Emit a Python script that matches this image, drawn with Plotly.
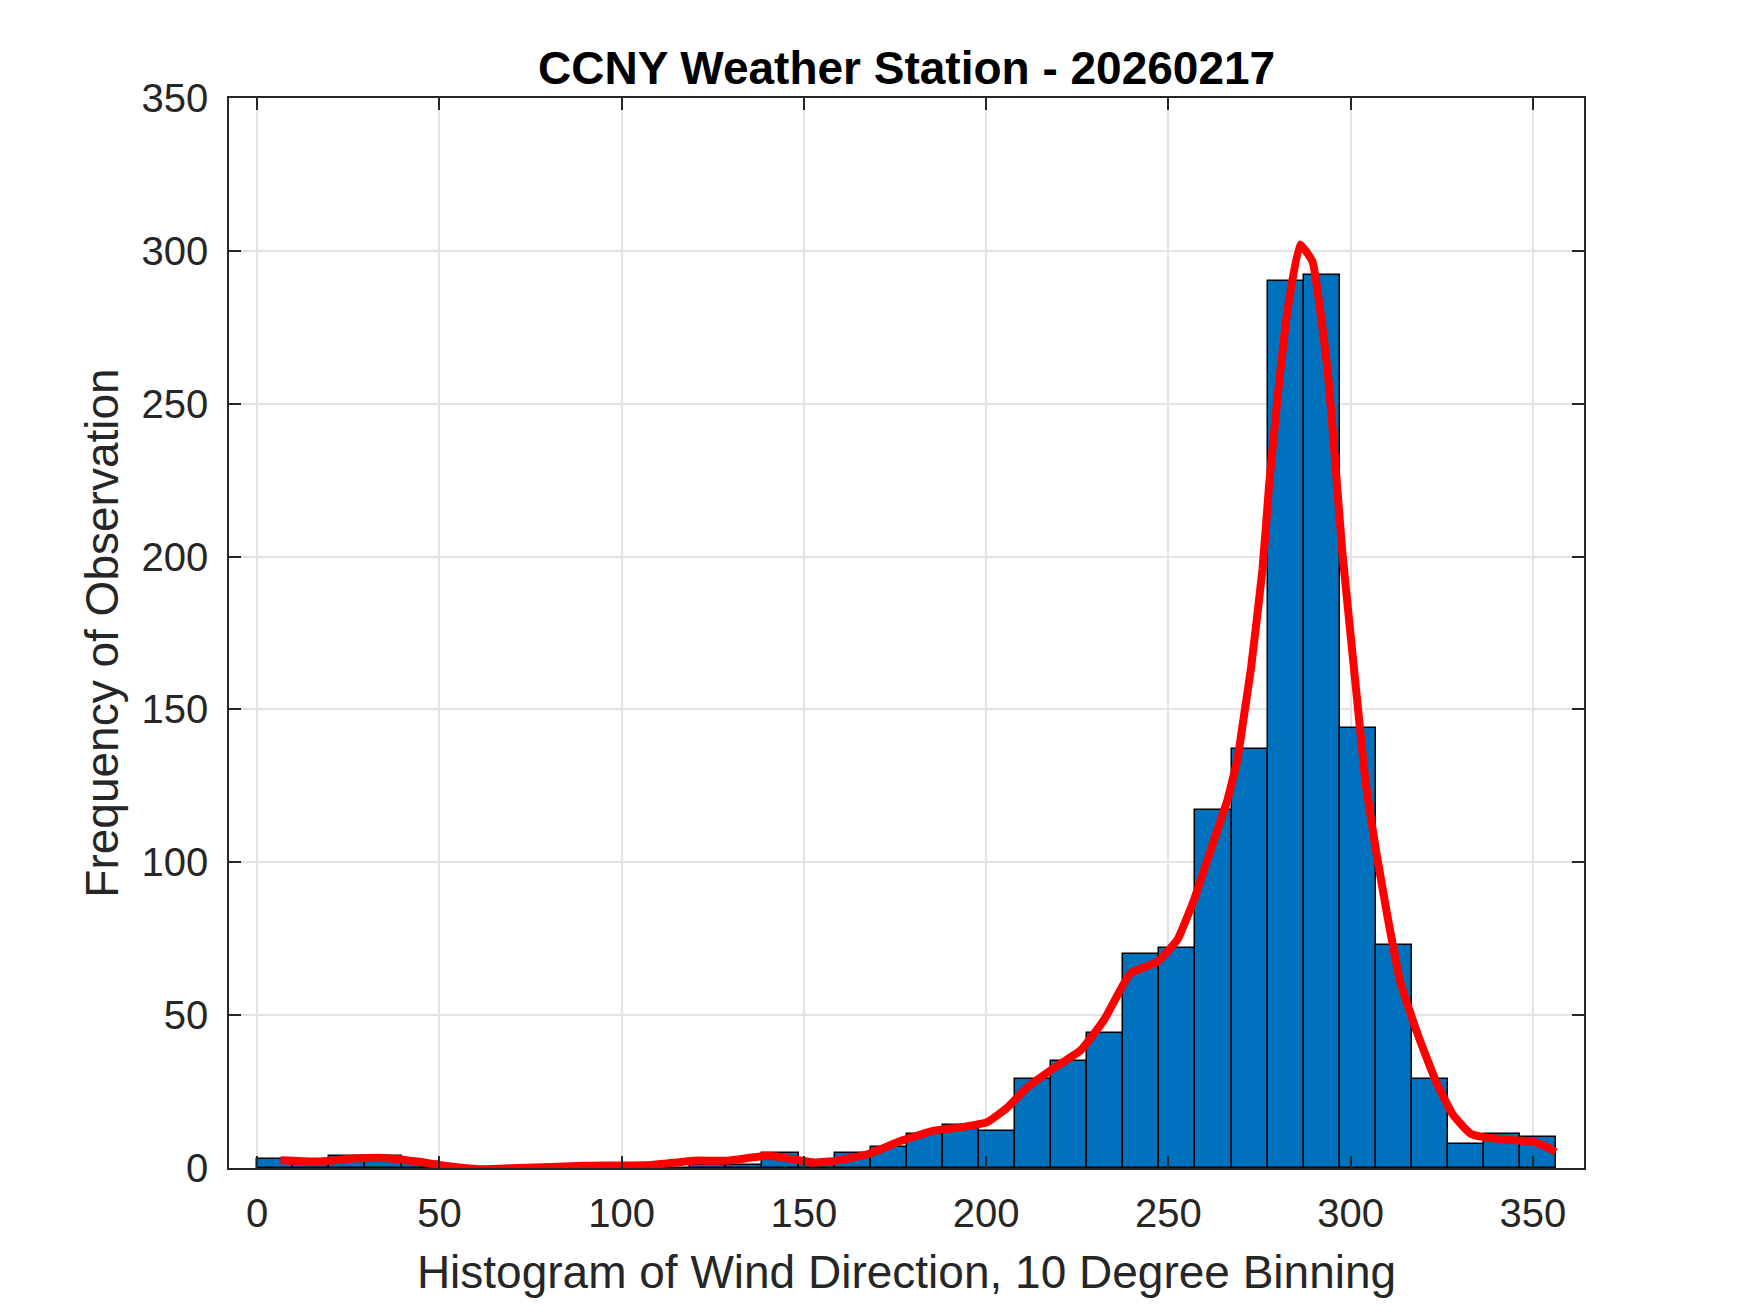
#!/usr/bin/env python3
# -*- coding: utf-8 -*-

import numpy as np
import plotly.graph_objects as go

# Histograma de direccion del viento (bins de 9.9 grados, 36 bins desde 0)
BIN_WIDTH = 9.9
conteos = [3, 1, 4, 4, 2, 0, 0, 0, 0, 0, 0, 0,
           1, 1, 5, 2, 5, 7, 11, 14, 12, 29, 35, 44,
           70, 72, 117, 137, 290, 292, 144, 73, 29, 8, 11, 10]

# Curva suavizada (roja)
curva_x = [6.4, 16.5, 25.7, 34.8, 44.0, 49.9, 61.0, 71.4, 89.7, 108.0,
           119.8, 129.0, 140.0, 145.5, 152.8, 159.2, 167.4, 176.5, 185.7, 193.0,
           200.3, 205.8, 211.3, 217.7, 225.9, 232.3, 239.6, 247.0, 252.4, 257.0,
           261.6, 266.2, 268.9, 270.7, 272.6, 275.8, 277.6, 279.9, 282.6, 286.1,
           289.5, 293.6, 295.9, 297.7, 300.0, 302.3, 304.1, 306.9, 310.1, 313.7,
           318.3, 323.5, 328.0, 332.9, 337.5, 343.9, 350.3, 354.0, 356.2]
curva_y = [2.5, 2.1, 3.0, 3.3, 2.1, 1.0, -0.4, 0.0, 0.7, 1.0,
           2.4, 2.4, 4.0, 3.2, 1.8, 2.4, 4.5, 8.8, 12.2, 13.3,
           15.0, 19.8, 26.4, 32.0, 38.5, 48.4, 63.7, 67.5, 74.6, 87.7,
           104.1, 120.5, 133.6, 147.8, 163.1, 195.9, 223.2, 251.6, 280.0, 302.1,
           296.5, 261.5, 228.7, 201.4, 174.0, 146.7, 126.0, 104.1, 82.2, 60.4,
           44.0, 28.0, 17.5, 11.2, 9.9, 9.2, 8.5, 6.8, 5.2]

ticks_x = [0, 50, 100, 150, 200, 250, 300, 350]
ticks_y = [0, 50, 100, 150, 200, 250, 300, 350]

titulo = 'CCNY Weather Station - 20260217'
etiqueta_x = 'Histogram of Wind Direction, 10 Degree Binning'
etiqueta_y = 'Frequency of Observation'

centros = np.arange(len(conteos)) * BIN_WIDTH + BIN_WIDTH / 2

FUENTE = 'Liberation Sans, Arial, Helvetica, sans-serif'
GRIS = '#262626'

fig = go.Figure()
fig.add_trace(go.Bar(
    x=centros,
    y=conteos,
    width=BIN_WIDTH,
    marker=dict(color='#0072BD', line=dict(color='black', width=1.5)),
    showlegend=False,
))
fig.add_trace(go.Scatter(
    x=curva_x,
    y=curva_y,
    mode='lines',
    line=dict(color='#FF0000', width=8, shape='spline', smoothing=0.4),
    showlegend=False,
))

eje = dict(
    showline=True, linecolor=GRIS, linewidth=1.5, mirror='ticks',
    ticks='inside', ticklen=12, tickwidth=1.5, tickcolor=GRIS,
    showgrid=True, gridcolor='#e3e3e3', gridwidth=1.5,
    zeroline=False, layer='above traces',
    tickfont=dict(family=FUENTE, size=40, color=GRIS),
)

fig.update_layout(
    width=1750, height=1313,
    margin=dict(l=221, r=174, t=90, b=153),
    paper_bgcolor='white', plot_bgcolor='white',
    bargap=0,
    title=dict(text='<b>' + titulo + '</b>', x=0.5135, xanchor='center',
               y=0.954, yanchor='middle',
               font=dict(family=FUENTE, size=46, color='black')),
    xaxis=dict(eje, range=[-7.74, 364.0], tickvals=ticks_x, ticklabelstandoff=9,
               title=dict(text=etiqueta_x, standoff=22,
                          font=dict(family=FUENTE, size=46, color=GRIS))),
    yaxis=dict(eje, range=[0, 350], tickvals=ticks_y, ticklabelstandoff=11,
               title=dict(text=etiqueta_y, standoff=8,
                          font=dict(family=FUENTE, size=46, color=GRIS))),
)

fig.write_html("out.html")
